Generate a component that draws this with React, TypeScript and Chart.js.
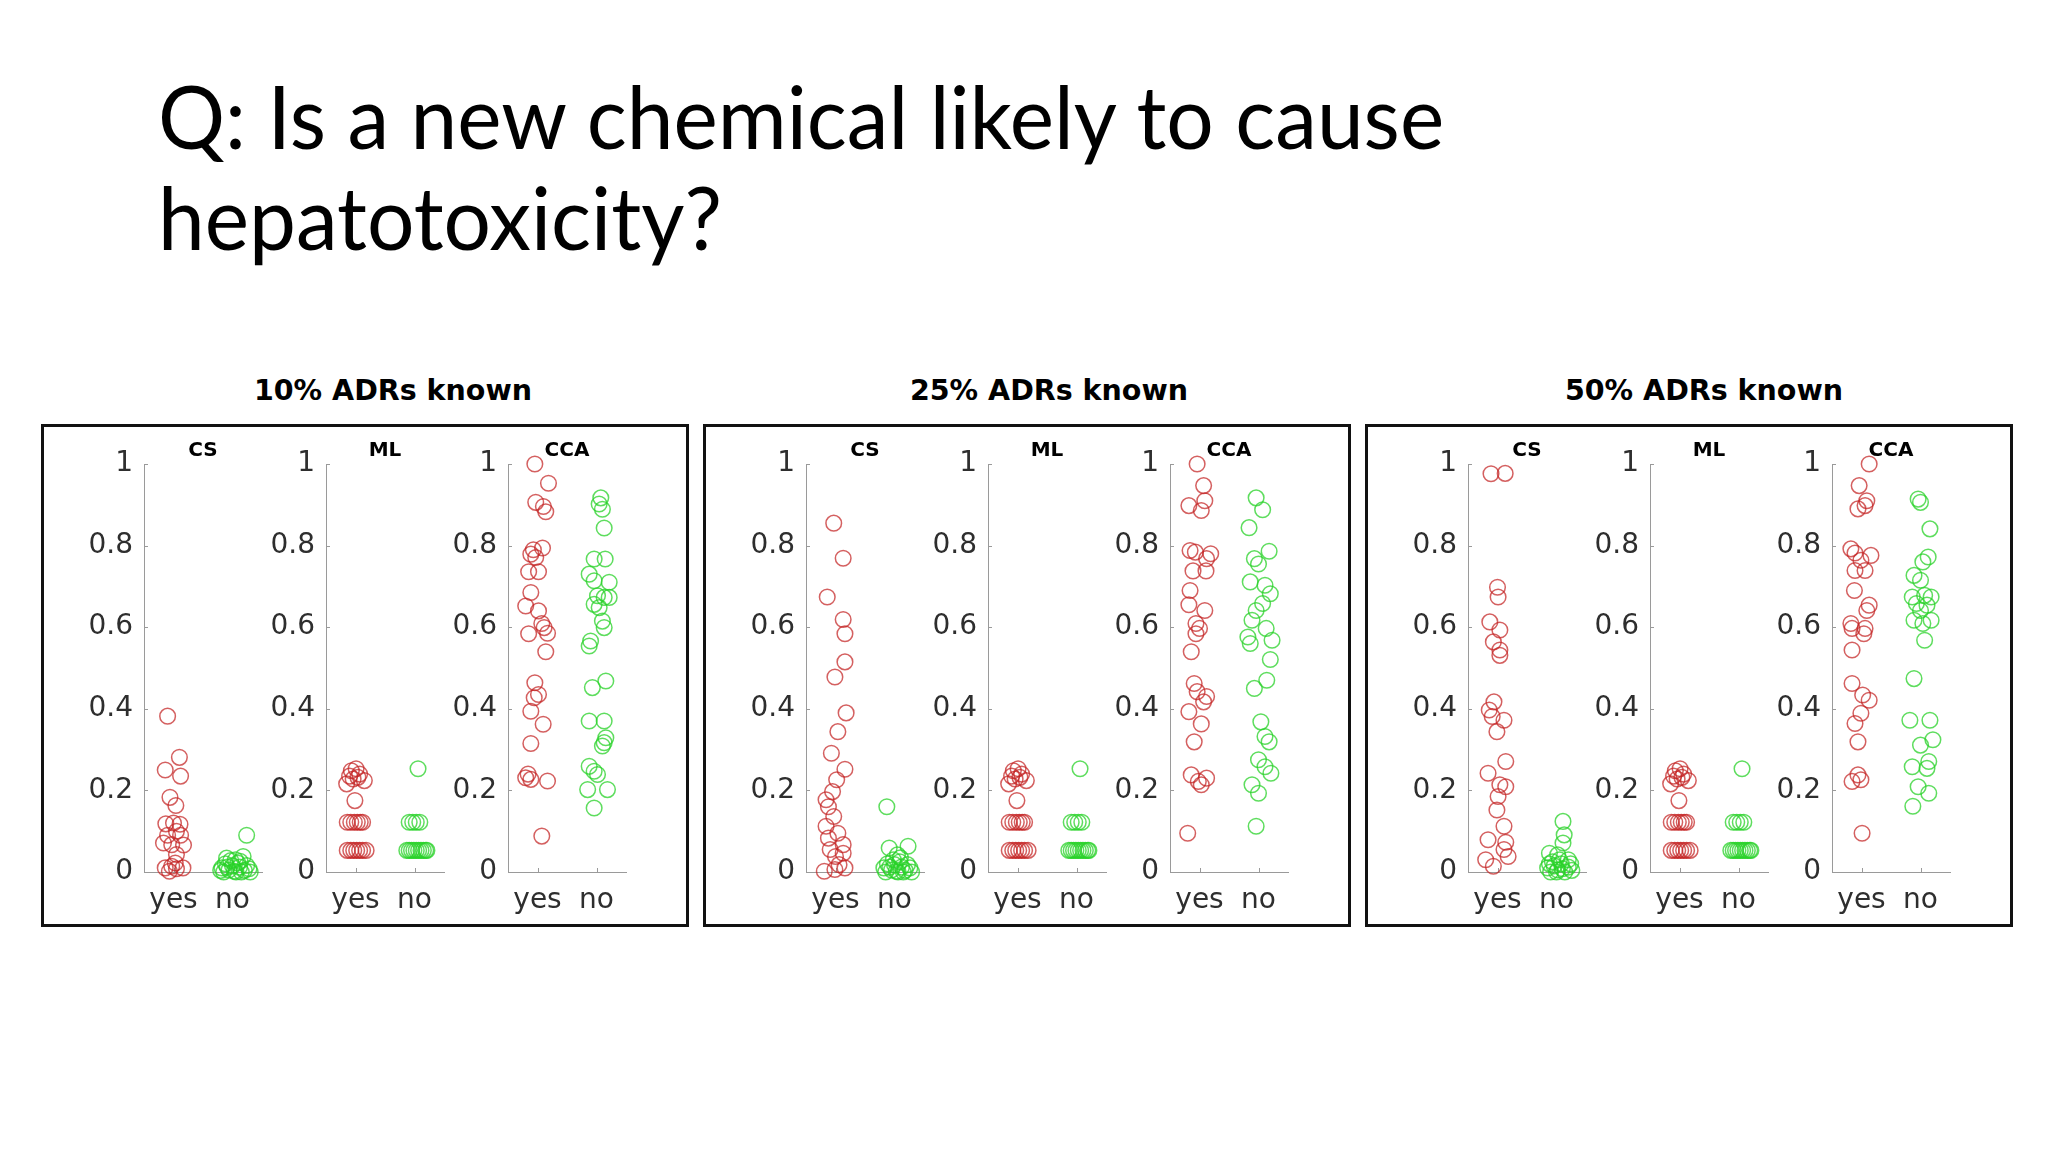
import React, { useEffect, useLayoutEffect, useRef } from 'react';
import { Chart, registerables } from 'chart.js';

Chart.register(...registerables);

// ---------- text ----------
const TITLE_LINES = ['Q: Is a new chemical likely to cause', 'hepatotoxicity?'];
const PANEL_TITLES = ['10% ADRs known', '25% ADRs known', '50% ADRs known'];
const METHODS = ['CS', 'ML', 'CCA'];
const CATEGORIES = ['yes', 'no'];
const Y_TICK_VALUES = [0, 0.2, 0.4, 0.6, 0.8, 1];
const Y_TICK_LABELS = ['0', '0.2', '0.4', '0.6', '0.8', '1'];

// ---------- data: [jittered category position, score] ----------
const CS10_YES = [
  [0.9, 0.382], [1.1, 0.281], [0.86, 0.25], [1.12, 0.235], [0.94, 0.183], [1.04, 0.163],
  [0.87, 0.118], [1.0, 0.12], [1.11, 0.117], [1.05, 0.1], [0.83, 0.071], [0.97, 0.067],
  [1.17, 0.066], [1.05, 0.043], [0.86, 0.01], [0.97, 0.014], [1.05, 0.008], [1.16, 0.01],
  [0.93, 0.002], [1.03, 0.022], [0.9, 0.09], [1.12, 0.09],
];
const CS10_NO = [
  [2.24, 0.09], [1.9, 0.034], [2.18, 0.038], [1.82, 0.01], [1.88, 0.02], [1.94, 0.005],
  [2.0, 0.015], [2.06, 0.0], [2.12, 0.012], [2.2, 0.004], [2.28, 0.008], [1.85, 0.0],
  [1.97, 0.028], [2.03, 0.002], [2.09, 0.022], [2.15, 0.0], [2.24, 0.016], [1.91, 0.012],
  [2.3, 0.0], [1.8, 0.004], [2.05, 0.03], [2.13, 0.026],
];
const ML_YES = [
  [0.93, 0.248], [1.01, 0.253], [1.07, 0.24], [1.15, 0.224], [0.96, 0.228], [0.85, 0.216],
  [0.9, 0.235], [1.04, 0.232], [0.99, 0.175],
  [0.86, 0.122], [0.92, 0.122], [0.98, 0.122], [1.03, 0.122], [1.08, 0.122], [1.12, 0.122],
  [0.86, 0.053], [0.92, 0.053], [0.97, 0.053], [1.02, 0.053], [1.07, 0.053], [1.12, 0.053],
  [1.18, 0.053],
];
const ML_NO = [
  [2.06, 0.253], [1.91, 0.122], [1.97, 0.122], [2.03, 0.122], [2.09, 0.122],
  [1.87, 0.053], [1.91, 0.053], [1.95, 0.053], [1.99, 0.053], [2.03, 0.053], [2.07, 0.053],
  [2.11, 0.053], [2.15, 0.053], [2.19, 0.053], [2.21, 0.053],
];
const CCA10_YES = [
  [0.955, 1.0], [1.186, 0.953], [0.97, 0.906], [1.1, 0.896], [1.14, 0.883], [1.085, 0.794],
  [0.887, 0.779], [0.97, 0.771], [0.93, 0.79], [0.85, 0.736], [1.017, 0.736], [0.887, 0.685],
  [0.8, 0.652], [1.017, 0.64], [1.073, 0.609], [1.113, 0.599], [0.85, 0.584], [1.17, 0.585],
  [1.14, 0.54], [0.955, 0.464], [1.017, 0.435], [0.944, 0.427], [0.887, 0.394], [1.096, 0.362],
  [0.887, 0.315], [0.8, 0.231], [0.887, 0.227], [0.84, 0.24], [1.17, 0.223], [1.073, 0.088],
];
const CCA10_NO = [
  [2.073, 0.917], [2.045, 0.902], [2.1, 0.889], [2.13, 0.843], [1.96, 0.767], [2.147, 0.767],
  [1.876, 0.73], [1.96, 0.714], [2.215, 0.71], [2.017, 0.677], [2.13, 0.673], [2.215, 0.673],
  [1.96, 0.656], [2.045, 0.648], [2.1, 0.615], [2.13, 0.599], [1.9, 0.566], [1.876, 0.554],
  [2.158, 0.468], [1.93, 0.452], [1.876, 0.37], [2.13, 0.37], [2.158, 0.329], [2.13, 0.317],
  [2.1, 0.309], [1.876, 0.259], [1.96, 0.247], [2.017, 0.239], [1.85, 0.202], [2.186, 0.202],
  [1.96, 0.157],
];
const CS25_YES = [
  [0.97, 0.855], [1.13, 0.769], [0.86, 0.674], [1.13, 0.619], [1.16, 0.584], [1.16, 0.515],
  [0.99, 0.478], [1.18, 0.39], [1.04, 0.344], [0.93, 0.291], [1.16, 0.252], [1.02, 0.226],
  [0.95, 0.197], [0.84, 0.177], [0.88, 0.16], [0.97, 0.136], [0.84, 0.112], [1.04, 0.095],
  [0.88, 0.083], [1.13, 0.067], [0.91, 0.055], [1.13, 0.046], [1.0, 0.038], [1.06, 0.018],
  [0.81, 0.002], [1.16, 0.01], [0.99, 0.006],
];
const CS25_NO = [
  [1.87, 0.16], [1.91, 0.059], [2.23, 0.063], [2.05, 0.042], [1.82, 0.01], [1.88, 0.02],
  [1.95, 0.005], [2.0, 0.018], [2.06, 0.0], [2.12, 0.012], [2.18, 0.004], [2.26, 0.01],
  [1.85, 0.0], [1.98, 0.03], [2.03, 0.002], [2.09, 0.025], [2.15, 0.0], [2.22, 0.018],
  [1.92, 0.012], [2.29, 0.0], [2.1, 0.035],
];
const CCA25_YES = [
  [0.96, 1.0], [1.07, 0.947], [1.09, 0.91], [0.82, 0.898], [1.03, 0.886], [0.84, 0.788],
  [0.93, 0.784], [1.19, 0.78], [1.12, 0.768], [0.89, 0.738], [1.11, 0.738], [0.84, 0.69],
  [0.82, 0.655], [1.09, 0.641], [0.94, 0.609], [1.0, 0.597], [0.94, 0.584], [0.86, 0.54],
  [0.91, 0.462], [0.96, 0.442], [1.12, 0.43], [1.07, 0.417], [0.82, 0.393], [1.03, 0.363],
  [0.91, 0.319], [0.86, 0.238], [0.98, 0.222], [1.12, 0.23], [1.03, 0.214], [0.8, 0.095],
];
const CCA25_NO = [
  [1.96, 0.917], [2.07, 0.888], [1.84, 0.844], [2.18, 0.786], [1.93, 0.768], [2.0, 0.755],
  [1.86, 0.711], [2.11, 0.703], [2.2, 0.682], [2.07, 0.658], [1.96, 0.641], [1.89, 0.617],
  [2.13, 0.597], [1.82, 0.576], [2.23, 0.568], [1.86, 0.56], [2.2, 0.521], [2.14, 0.47],
  [1.93, 0.45], [2.04, 0.368], [2.11, 0.332], [2.18, 0.319], [2.0, 0.275], [2.11, 0.258],
  [2.21, 0.242], [1.89, 0.214], [2.0, 0.193], [1.96, 0.112],
];
const CS50_YES = [
  [0.89, 0.976], [1.13, 0.977], [1.0, 0.698], [1.01, 0.674], [0.87, 0.613], [1.04, 0.593],
  [0.93, 0.564], [1.04, 0.544], [1.04, 0.531], [0.94, 0.417], [0.86, 0.397], [0.91, 0.381],
  [1.11, 0.372], [0.99, 0.344], [1.14, 0.271], [0.84, 0.242], [1.04, 0.214], [1.14, 0.209],
  [1.01, 0.185], [0.99, 0.152], [1.11, 0.112], [0.84, 0.079], [1.14, 0.073], [1.11, 0.055],
  [1.18, 0.038], [0.8, 0.03], [0.93, 0.014],
];
const CS50_NO = [
  [2.11, 0.124], [2.13, 0.091], [2.11, 0.071], [1.88, 0.046], [2.02, 0.042], [2.2, 0.03],
  [1.85, 0.01], [1.9, 0.0], [1.96, 0.015], [2.02, 0.005], [2.08, 0.02], [2.14, 0.0],
  [2.2, 0.012], [2.26, 0.004], [1.93, 0.025], [2.0, 0.0], [2.1, 0.008], [2.24, 0.02],
  [1.88, 0.02], [2.05, 0.03],
];
const CCA50_YES = [
  [1.13, 1.0], [0.96, 0.947], [1.09, 0.91], [0.94, 0.89], [1.06, 0.898], [0.82, 0.792],
  [0.89, 0.782], [1.16, 0.776], [0.99, 0.764], [0.89, 0.739], [1.06, 0.739], [0.88, 0.69],
  [1.13, 0.654], [1.09, 0.641], [0.82, 0.609], [0.84, 0.597], [1.06, 0.597], [1.04, 0.584],
  [0.84, 0.544], [0.84, 0.462], [1.02, 0.434], [1.13, 0.421], [0.99, 0.389], [0.89, 0.364],
  [0.94, 0.319], [0.94, 0.238], [0.84, 0.222], [0.99, 0.226], [1.01, 0.095],
];
const CCA50_NO = [
  [1.96, 0.914], [2.0, 0.906], [2.16, 0.841], [2.13, 0.772], [2.04, 0.76], [1.89, 0.727],
  [2.0, 0.715], [1.86, 0.674], [2.07, 0.678], [2.18, 0.674], [1.93, 0.658], [2.11, 0.654],
  [2.0, 0.641], [1.89, 0.617], [2.18, 0.617], [2.04, 0.609], [2.07, 0.568], [1.89, 0.474],
  [1.82, 0.372], [2.16, 0.372], [2.21, 0.324], [2.0, 0.311], [1.86, 0.258], [2.14, 0.271],
  [2.11, 0.254], [1.96, 0.209], [2.14, 0.193], [1.87, 0.161],
];

const PANEL_DATA = [
  [[CS10_YES, CS10_NO], [ML_YES, ML_NO], [CCA10_YES, CCA10_NO]],
  [[CS25_YES, CS25_NO], [ML_YES, ML_NO], [CCA25_YES, CCA25_NO]],
  [[CS50_YES, CS50_NO], [ML_YES, ML_NO], [CCA50_YES, CCA50_NO]],
];

// ---------- styling / layout ----------
const RED = 'rgba(195, 35, 35, 0.72)';
const GREEN = 'rgba(40, 210, 40, 0.75)';
const AXIS = '#9a9a9a';
const TICK = '#2e2e2e';
const TICK_FONT = { family: 'DejaVu Sans', size: 28 };

const BOX_LEFTS = [41, 703, 1365];
const BOX_TOP = 424;
const BOX_W = 648;
const BOX_H = 503;
const PANEL_TITLE_CX = [393, 1049, 1704];
const AXIS_OFFSET = 103;
const SUB_SPACING = 182;
const Y_AXIS_W = 70;
const PLOT_W = 118;
const PAD_RIGHT = 12;
const PAD_TOP = 32;
const PLOT_H = 408;
const X_AXIS_H = 52;
const PLOT_TOP = 463.5;
const CANVAS_W = Y_AXIS_W + PLOT_W + PAD_RIGHT;
const CANVAS_H = PAD_TOP + PLOT_H + X_AXIS_H;

const inwardTicks = {
  id: 'inwardTicks',
  beforeDatasetsDraw(chart: any) {
    const { ctx, chartArea } = chart;
    const xs = chart.scales.x;
    const ys = chart.scales.y;
    ctx.save();
    ctx.strokeStyle = AXIS;
    ctx.lineWidth = 1;
    ctx.beginPath();
    Y_TICK_VALUES.forEach((v) => {
      const py = Math.round(ys.getPixelForValue(v)) + 0.5;
      ctx.moveTo(chartArea.left, py);
      ctx.lineTo(chartArea.left + 4, py);
    });
    [1, 2].forEach((v) => {
      const px = Math.round(xs.getPixelForValue(v)) + 0.5;
      ctx.moveTo(px, chartArea.bottom);
      ctx.lineTo(px, chartArea.bottom - 4);
    });
    ctx.stroke();
    ctx.restore();
  },
};

function SubPlot({ axisX, yes, no }: { axisX: number; yes: number[][]; no: number[][] }) {
  const ref = useRef<HTMLCanvasElement>(null);
  useEffect(() => {
    const pointStyle = (color: string) => ({
      pointStyle: 'circle',
      pointRadius: 7.8,
      pointBorderWidth: 1.5,
      pointBorderColor: color,
      pointBackgroundColor: 'rgba(0,0,0,0)',
      clip: false,
    });
    const chart = new Chart(ref.current as HTMLCanvasElement, {
      type: 'scatter',
      data: {
        datasets: [
          { label: CATEGORIES[0], data: yes.map(([x, y]) => ({ x, y })), ...pointStyle(RED) } as any,
          { label: CATEGORIES[1], data: no.map(([x, y]) => ({ x, y })), ...pointStyle(GREEN) } as any,
        ],
      },
      options: {
        animation: false,
        responsive: false,
        maintainAspectRatio: false,
        events: [],
        layout: { padding: { top: PAD_TOP, right: PAD_RIGHT, bottom: 0, left: 0 } },
        plugins: { legend: { display: false }, tooltip: { enabled: false }, title: { display: false } },
        scales: {
          x: {
            type: 'linear',
            min: 0.5,
            max: 2.5,
            afterBuildTicks: (s: any) => {
              s.ticks = [1, 2].map((v) => ({ value: v }));
            },
            afterFit: (s: any) => {
              s.height = X_AXIS_H;
            },
            grid: { display: false, drawTicks: false },
            border: { display: true, color: AXIS, width: 1 },
            ticks: {
              autoSkip: false,
              maxRotation: 0,
              padding: 12,
              color: TICK,
              font: TICK_FONT,
              callback: (v: any) => CATEGORIES[Math.round(Number(v)) - 1],
            },
          },
          y: {
            type: 'linear',
            min: 0,
            max: 1,
            afterBuildTicks: (s: any) => {
              s.ticks = Y_TICK_VALUES.map((v) => ({ value: v }));
            },
            afterFit: (s: any) => {
              s.width = Y_AXIS_W;
            },
            grid: { display: false, drawTicks: false },
            border: { display: true, color: AXIS, width: 1 },
            ticks: {
              autoSkip: false,
              padding: 11,
              color: TICK,
              font: TICK_FONT,
              callback: (_v: any, i: number) => Y_TICK_LABELS[i],
            },
          },
        },
      } as any,
      plugins: [inwardTicks],
    });
    return () => chart.destroy();
  }, [yes, no]);
  return (
    <canvas
      ref={ref}
      width={CANVAS_W}
      height={CANVAS_H}
      style={{
        position: 'absolute',
        left: axisX - Y_AXIS_W,
        top: PLOT_TOP - PAD_TOP,
        width: CANVAS_W,
        height: CANVAS_H,
      }}
    />
  );
}

export default function App() {
  const line1 = useRef<HTMLDivElement>(null);
  const line2 = useRef<HTMLDivElement>(null);
  useLayoutEffect(() => {
    const a = line1.current;
    const b = line2.current;
    if (!a || !b) return;
    const w = a.scrollWidth;
    const s = w > 0 ? 1286 / w : 1;
    a.style.transform = `scaleX(${s})`;
    b.style.transform = `scaleX(${s})`;
  }, []);

  const titleStyle: React.CSSProperties = {
    position: 'absolute',
    left: 158,
    fontFamily: 'Lato, "Open Sans", sans-serif',
    fontSize: 87,
    lineHeight: '87px',
    color: '#000',
    whiteSpace: 'nowrap',
    transformOrigin: '0 0',
    display: 'inline-block',
  };

  return (
    <div style={{ position: 'absolute', left: 0, top: 0, width: 2048, height: 1152, background: '#fff', overflow: 'hidden' }}>
      <div ref={line1} style={{ ...titleStyle, top: 72 }}>{TITLE_LINES[0]}</div>
      <div ref={line2} style={{ ...titleStyle, top: 173 }}>{TITLE_LINES[1]}</div>

      {PANEL_TITLES.map((t, p) => (
        <div
          key={'pt' + p}
          style={{
            position: 'absolute',
            left: PANEL_TITLE_CX[p],
            top: 377,
            transform: 'translateX(-50%)',
            fontFamily: '"DejaVu Sans", sans-serif',
            fontWeight: 'bold',
            fontSize: 28.5,
            lineHeight: '28.5px',
            whiteSpace: 'nowrap',
            color: '#000',
          }}
        >
          {t}
        </div>
      ))}

      {BOX_LEFTS.map((l, p) => (
        <div
          key={'box' + p}
          style={{
            position: 'absolute',
            left: l,
            top: BOX_TOP,
            width: BOX_W,
            height: BOX_H,
            border: '3px solid #111',
            boxSizing: 'border-box',
          }}
        />
      ))}

      {BOX_LEFTS.map((l, p) =>
        METHODS.map((m, s) => {
          const axisX = l + AXIS_OFFSET + SUB_SPACING * s;
          return (
            <React.Fragment key={`sp${p}-${s}`}>
              <SubPlot axisX={axisX} yes={PANEL_DATA[p][s][0]} no={PANEL_DATA[p][s][1]} />
              <div
                style={{
                  position: 'absolute',
                  left: axisX + PLOT_W / 2,
                  top: 439,
                  transform: 'translateX(-50%)',
                  fontFamily: '"DejaVu Sans", sans-serif',
                  fontWeight: 'bold',
                  fontSize: 20,
                  lineHeight: '20px',
                  whiteSpace: 'nowrap',
                  color: '#000',
                }}
              >
                {m}
              </div>
            </React.Fragment>
          );
        })
      )}
    </div>
  );
}
